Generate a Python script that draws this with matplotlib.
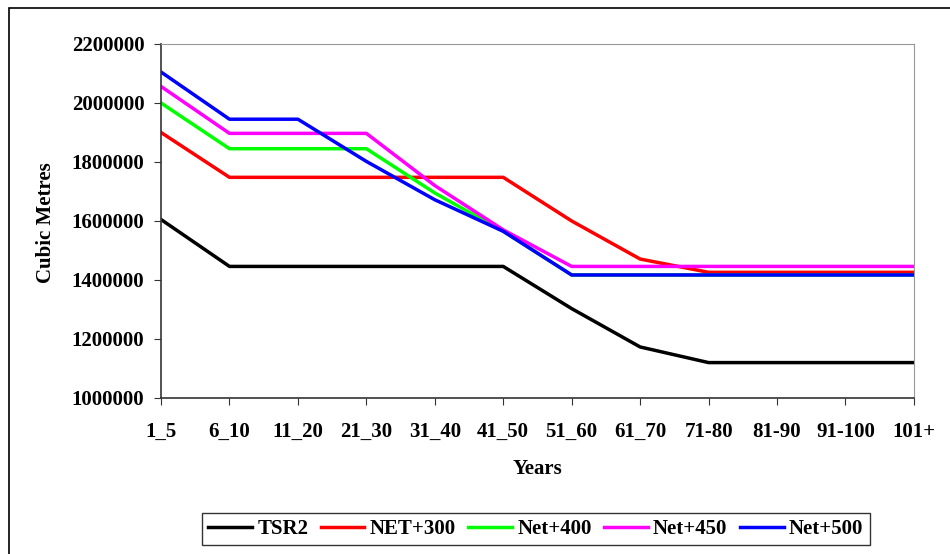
import numpy as np
import matplotlib.pyplot as plt
from matplotlib.patches import Rectangle

# categorias do eixo x
years = ['1_5', '6_10', '11_20', '21_30', '31_40', '41_50', '51_60',
         '61_70', '71-80', '81-90', '91-100', '101+']

# series (metros cubicos)
tsr2 = [1605000, 1446000, 1446000, 1446000, 1446000, 1446000, 1303000,
        1173000, 1120000, 1120000, 1120000, 1120000]
net300 = [1900000, 1748000, 1748000, 1748000, 1748000, 1748000, 1600000,
          1471000, 1426000, 1426000, 1426000, 1426000]
net400 = [2000000, 1845000, 1845000, 1845000, 1695000, 1565000, 1417000,
          1417000, 1417000, 1417000, 1417000, 1417000]
net450 = [2056000, 1897000, 1897000, 1897000, 1720000, 1570000, 1446000,
          1446000, 1446000, 1446000, 1446000, 1446000]
net500 = [2105000, 1945000, 1945000, 1802000, 1672000, 1565000, 1417000,
          1417000, 1417000, 1417000, 1417000, 1417000]

series = [('TSR2', tsr2, 'black'), ('NET+300', net300, 'red'),
          ('Net+400', net400, '#00ff00'), ('Net+450', net450, '#ff00ff'),
          ('Net+500', net500, 'blue')]

plt.rcParams['font.family'] = ['Liberation Serif', 'DejaVu Serif']

fig = plt.figure(figsize=(9.5, 5.54), dpi=100)
ax = fig.add_axes([0.1695, 0.2816, 0.7925, 0.639])

x = np.arange(len(years))
for nome, vals, cor in series:
    ax.plot(x, vals, color=cor, lw=2.5, label=nome)

ax.set_xlim(0, len(years) - 1)
ax.set_ylim(1000000, 2200000)
ax.set_yticks(np.arange(1000000, 2200001, 200000))
ax.set_yticklabels([str(v) for v in range(1000000, 2200001, 200000)],
                   fontsize=15, fontweight='bold')
ax.set_xticks(x)
ax.set_xticklabels(years, fontsize=15, fontweight='bold')
ax.tick_params(axis='both', direction='out', length=5, color='#333333')
ax.tick_params(axis='x', pad=12)
ax.tick_params(axis='y', pad=7)

for s in ['top', 'right']:
    ax.spines[s].set_color('#999999')
for s in ['left', 'bottom']:
    ax.spines[s].set_color('#333333')
    ax.spines[s].set_linewidth(1.2)

ax.set_xlabel('Years', fontsize=15, fontweight='bold')
ax.set_ylabel('Cubic Metres', fontsize=15, fontweight='bold')
ax.xaxis.set_label_coords(0.5, -0.172)
ax.yaxis.set_label_coords(-0.139, 0.494)

leg = fig.legend(loc='center', bbox_to_anchor=(0.564, 0.045), ncol=5,
                 frameon=True, fancybox=False,
                 prop={'weight': 'bold', 'size': 15}, handlelength=2.1,
                 columnspacing=0.6, handletextpad=0.25, borderpad=0.3)
leg.get_frame().set_edgecolor('black')
leg.get_frame().set_linewidth(1.0)

# moldura externa
fig.patches.append(Rectangle((0.0095, -0.1), 1.2, 1.1 - 8 / 554, transform=fig.transFigure,
                             fill=False, edgecolor='black', lw=1.2))

fig.savefig('out.png', dpi=100)
